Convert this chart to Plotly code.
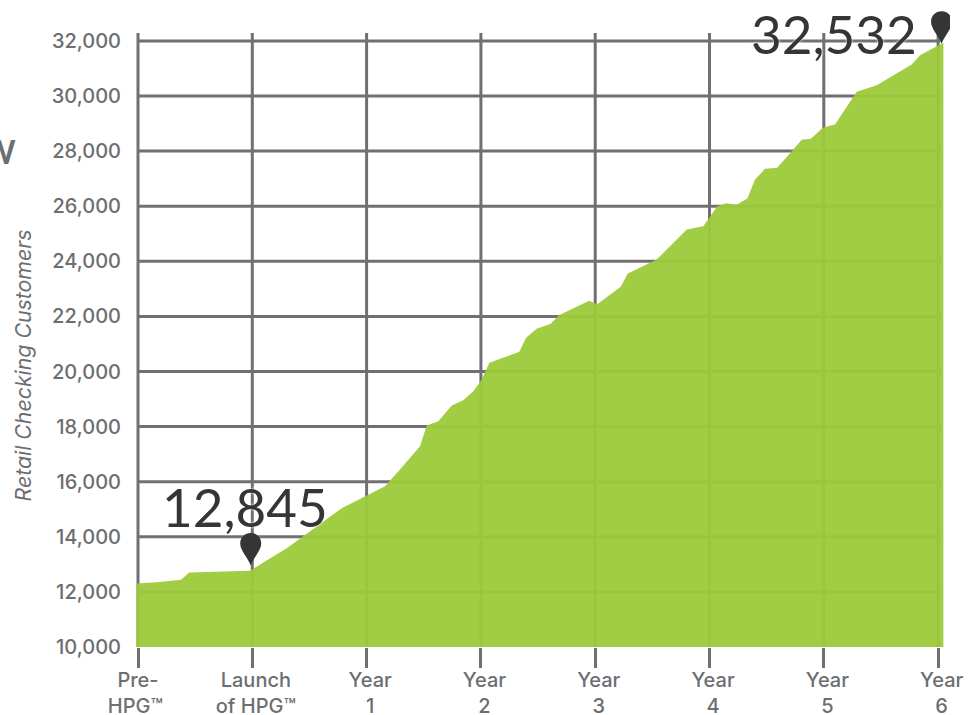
import plotly.graph_objects as go

# Time positions: 0 = Pre-HPG, 1 = Launch, 2..7 = Year 1..6
period = [-0.013, .164, .376, .449, .980, 1.301, 1.782, 2.161, 2.292, 2.467, 2.526, 2.627, 2.745, 2.846, 2.934,
          3.007, 3.074, 3.336, 3.395, 3.488, 3.611, 3.683, 3.946, 4.018, 4.223, 4.285, 4.538, 4.801, 4.946,
          5.068, 5.144, 5.238, 5.331, 5.398, 5.486, 5.593, 5.807, 5.888, 5.990, 6.098, 6.288, 6.463, 6.769,
          6.842, 7.046]
customers = [12305, 12352, 12439, 12704, 12766, 13586, 15038, 15837, 16443, 17289, 18041, 18197, 18767, 18959, 19286,
             19710, 20317, 20716, 21224, 21551, 21732, 22044, 22567, 22444, 23075, 23558, 24066, 25155, 25275,
             26001, 26110, 26052, 26281, 26971, 27359, 27395, 28412, 28448, 28847, 28967, 30154, 30393, 31145,
             31482, 31933]
x_ticks = [0, 1, 2, 3, 4, 5, 6, 7]
NB = "\u00a0"
PAD = "\u00a0\u200a"
x_labels = ["Pre-<br>HPG™" + NB, PAD + "Launch<br>" + PAD + "of HPG™"] + \
           [f"{PAD}Year<br>{PAD}{n}" for n in range(1, 7)]
y_ticks = list(range(10000, 32001, 2000))
pins = [(0.986, 12958, "12,845", 0.936, 15105), (7.03, 31900, "32,532", 6.089, 32270)]

GRID = "#707074"
TXT = "#6d6e71"
DARK = "#333635"
BIG = "Lato"
FONT = "Inter"

fig = go.Figure()
fig.add_trace(go.Scatter(x=period, y=customers, mode="lines", line=dict(width=0),
                         fill="tozeroy", fillcolor="rgba(156,202,58,0.95)", hoverinfo="skip", showlegend=False))

shapes = []
for v in y_ticks:
    shapes.append(dict(type="line", layer="below", xref="x", yref="y", x0=x_ticks[0], x1=7.02, y0=v, y1=v,
                       line=dict(color="#c4c4c6" if v == 10000 else GRID, width=3)))
for t in x_ticks:
    shapes.append(dict(type="line", layer="below", xref="x", yref="y", x0=t, x1=t, y0=10000, y1=32290,
                       line=dict(color=GRID, width=3)))
pin_path = "M 0 0 C -3 8 -10.5 15 -10.5 22 C -10.5 28 -6 32.5 0 32.5 C 6 32.5 10.5 28 10.5 22 C 10.5 15 3 8 0 0 Z"
for px_, py_, *_ in pins:
    shapes.append(dict(type="path", layer="above", xref="x", yref="y", xsizemode="pixel", ysizemode="pixel",
                       xanchor=px_, yanchor=py_, path=pin_path, fillcolor=DARK, line=dict(width=0)))

annotations = [dict(xref="x", yref="y", x=tx, y=ty, text=label, showarrow=False, xanchor="center", yanchor="middle",
                    font=dict(family=BIG, size=53, color=DARK, shadow="0 0 3px #ffffff"))
               for _, _, label, tx, ty in pins]
annotations.append(dict(xref="paper", yref="y", x=-0.1305, y=20218, text="<i>Retail Checking Customers</i>", textangle=-90,
                        showarrow=False, xanchor="center", yanchor="middle",
                        font=dict(family=FONT, size=21.3, color=TXT)))
annotations.append(dict(xref="paper", yref="y", x=-0.1369, y=28000, text="<b>W</b>", showarrow=False,
                        xanchor="right", yanchor="middle", font=dict(family=BIG, size=32, color=TXT)))

fig.update_layout(
    width=976, height=715, margin=dict(l=130, r=26, t=5, b=67.5, pad=0, autoexpand=False),
    paper_bgcolor="white", plot_bgcolor="white", showlegend=False,
    shapes=shapes, annotations=annotations,
    xaxis=dict(range=[-0.07, 7.104], tickmode="array", tickvals=x_ticks, ticktext=x_labels,
               showgrid=False, zeroline=False, showline=False, automargin=False,
               ticks="outside", ticklen=20, tickwidth=3, tickcolor=GRID, ticklabelstandoff=-5,
               tickfont=dict(family=FONT, size=20, color=TXT, weight=500), tickangle=0),
    yaxis=dict(range=[10000, 33304], tickmode="array", tickvals=y_ticks, ticktext=[f"{v:,}" for v in y_ticks],
               showgrid=False, zeroline=False, showline=False, automargin=False,
               ticks="outside", ticklen=4, tickwidth=1, tickcolor="rgba(0,0,0,0)",
               tickfont=dict(family=FONT, size=20, color=TXT, weight=500)),
)

fig.write_html("out.html", config=dict(displayModeBar=False),
               post_script="document.body.style.margin='0';document.body.style.overflow='hidden';")
